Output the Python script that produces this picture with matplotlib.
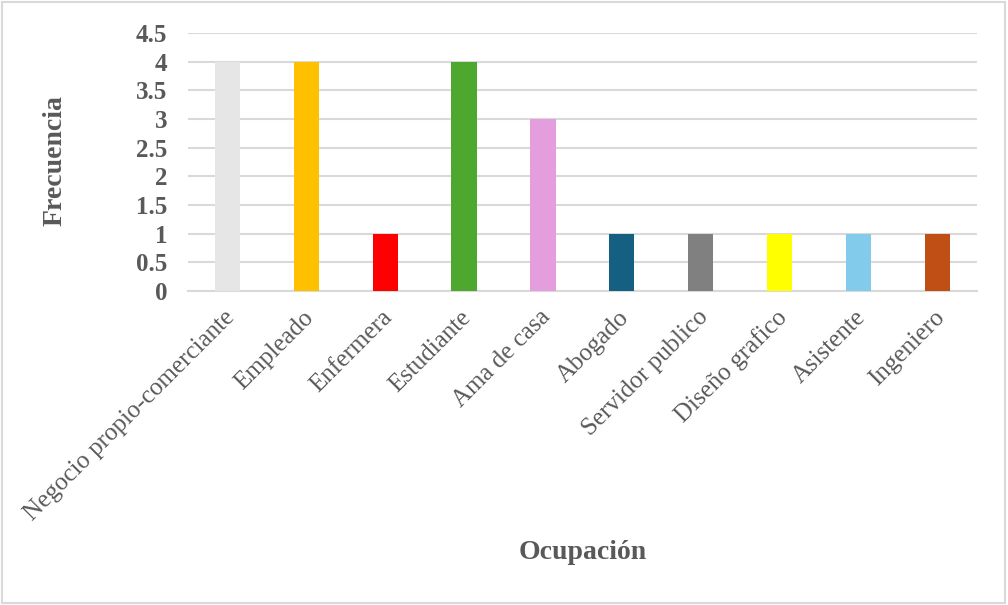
import matplotlib
matplotlib.use("Agg")
import matplotlib.pyplot as plt
from matplotlib.patches import Rectangle
from matplotlib.transforms import ScaledTranslation

categories = ["Negocio propio-comerciante", "Empleado", "Enfermera", "Estudiante",
              "Ama de casa", "Abogado", "Servidor publico", "Diseño grafico",
              "Asistente", "Ingeniero"]
values = [4, 4, 1, 4, 3, 1, 1, 1, 1, 1]
colors = ["#E7E6E6", "#FFC000", "#FF0000", "#4EA72E", "#E59EDD",
          "#156082", "#808080", "#FFFF00", "#83CBEB", "#C04F15"]
yticks = [0, 0.5, 1, 1.5, 2, 2.5, 3, 3.5, 4, 4.5]
ytick_labels = ["0", "0.5", "1", "1.5", "2", "2.5", "3", "3.5", "4", "4.5"]

plt.rcParams['font.family'] = ['Liberation Serif', 'DejaVu Serif']
txt = "#595959"
grid = "#D9D9D9"

fig = plt.figure(figsize=(10.08, 6.05), dpi=100)
ax = fig.add_axes([0.1865, 0.519, 0.7825, 0.4265])

x = list(range(len(categories)))
ax.bar(x, values, width=0.32, color=colors, zorder=3)
ax.set_xlim(-0.5, len(categories) - 0.5)
ax.set_ylim(0, 4.5)
ax.set_yticks(yticks)
ax.set_yticklabels(ytick_labels, fontsize=18, fontweight='bold', color=txt)
ax.set_xticks(x)
ax.set_xticklabels(categories, rotation=45, ha='right', va='top',
                   rotation_mode='anchor', fontsize=18, color=txt)
ax.tick_params(axis='both', length=0)
ax.tick_params(axis='y', pad=15)
ax.tick_params(axis='x', pad=11)
shift = ScaledTranslation(-4 / 100, 0, fig.dpi_scale_trans)
for lbl in ax.get_xticklabels():
    lbl.set_transform(lbl.get_transform() + shift)
ax.grid(axis='y', color=grid, linewidth=1.5, zorder=0)
for s in ['top', 'right', 'left']:
    ax.spines[s].set_visible(False)
ax.spines['bottom'].set_color(grid)
ax.spines['bottom'].set_linewidth(1.5)

fig.text(0.0546, 0.7345, "Frecuencia", fontsize=20, fontweight='bold', color=txt,
         ha='center', va='center', rotation=90)
fig.text(0.5785, 0.086, "Ocupación", fontsize=20, fontweight='bold', color=txt,
         ha='center', va='center')

fig.patches.append(Rectangle((0.002, 0.003), 0.995, 0.993, transform=fig.transFigure,
                             fill=False, edgecolor="#D9D9D9", linewidth=1.5))

fig.savefig("out.png", dpi=100)
